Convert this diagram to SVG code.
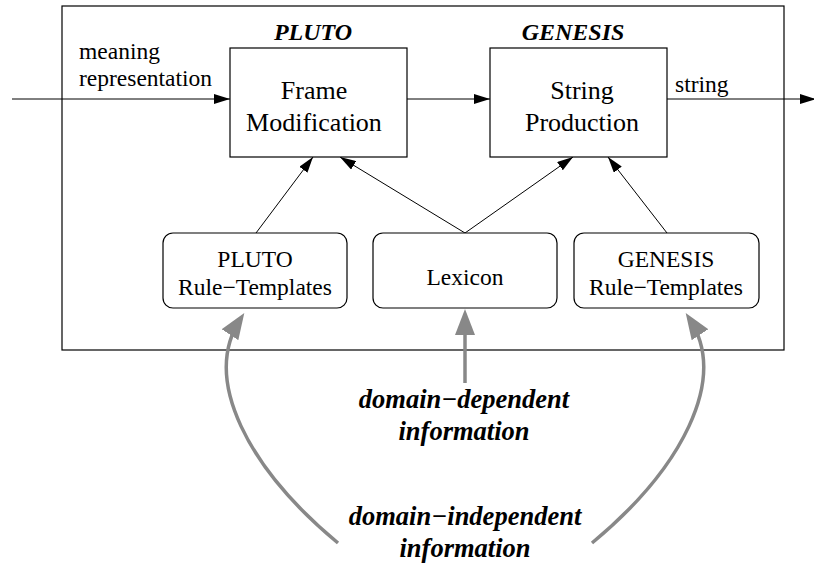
<svg xmlns="http://www.w3.org/2000/svg" width="814" height="563" viewBox="0 0 814 563">
<style>
  .box { fill: #fff; stroke: #000; stroke-width: 1.2; }
  .outer { fill: none; stroke: #000; stroke-width: 1.2; }
  .t { font-family: "Liberation Serif", "Times New Roman", serif; fill: #000; text-anchor: middle; }
  .big { font-size: 26px; }
  .med { font-size: 23.5px; }
  .lab { font-size: 24px; font-weight: bold; font-style: italic; }
  .dom { font-size: 26.5px; font-weight: bold; font-style: italic; }
  .edge { fill: none; stroke: #000; stroke-width: 1; }
  .gray { fill: none; stroke: #888; stroke-width: 3.5; }
</style>
<defs>
  <marker id="ah" markerUnits="userSpaceOnUse" markerWidth="16" markerHeight="10" refX="16" refY="5" orient="auto">
    <path d="M0,0 L16,5 L0,10 z" fill="#000"/>
  </marker>
  <marker id="gh" markerUnits="userSpaceOnUse" markerWidth="26" markerHeight="20" refX="20" refY="10" orient="auto">
    <path d="M0,0 L26,10 L0,20 z" fill="#888"/>
  </marker>
</defs>

<rect class="outer" x="62" y="6" width="722" height="344"/>

<g id="connectors">
  <line class="edge" x1="12" y1="99" x2="230" y2="99" marker-end="url(#ah)"/>
  <line class="edge" x1="407" y1="99" x2="490" y2="99" marker-end="url(#ah)"/>
  <line class="edge" x1="667" y1="99" x2="816" y2="99" marker-end="url(#ah)"/>
  <line class="edge" x1="256" y1="233" x2="313" y2="157" marker-end="url(#ah)"/>
  <line class="edge" x1="465" y1="233" x2="340" y2="157" marker-end="url(#ah)"/>
  <line class="edge" x1="465" y1="233" x2="573" y2="157" marker-end="url(#ah)"/>
  <line class="edge" x1="667" y1="233" x2="608" y2="157" marker-end="url(#ah)"/>
  <line class="gray" x1="465" y1="383" x2="465" y2="315" marker-end="url(#gh)"/>
  <path class="gray" d="M338,543 C250,470 200,380 241,318" marker-end="url(#gh)"/>
  <path class="gray" d="M592,543 C680,470 730,380 689,318" marker-end="url(#gh)"/>
</g>

<g id="label-meaning">
  <text class="t med" x="79" y="59" style="text-anchor:start">meaning</text>
  <text class="t med" x="79" y="86" style="text-anchor:start">representation</text>
</g>
<g id="label-string">
  <text class="t med" x="675" y="92" style="text-anchor:start">string</text>
</g>

<g id="frame-modification">
  <text class="t lab" x="313" y="40">PLUTO</text>
  <rect class="box" x="230" y="48" width="177" height="109"/>
  <text class="t big" x="314" y="99">Frame</text>
  <text class="t big" x="314" y="131">Modification</text>
</g>

<g id="string-production">
  <text class="t lab" x="573" y="40">GENESIS</text>
  <rect class="box" x="490" y="48" width="177" height="109"/>
  <text class="t big" x="582" y="99">String</text>
  <text class="t big" x="582" y="131">Production</text>
</g>

<g id="pluto-rule-templates">
  <rect class="box" x="163" y="233" width="184" height="75" rx="10"/>
  <text class="t med" x="255" y="267">PLUTO</text>
  <text class="t med" x="255" y="295">Rule−Templates</text>
</g>

<g id="lexicon">
  <rect class="box" x="373" y="233" width="184" height="75" rx="10"/>
  <text class="t med" x="465" y="285">Lexicon</text>
</g>

<g id="genesis-rule-templates">
  <rect class="box" x="574" y="233" width="185" height="75" rx="10"/>
  <text class="t med" x="666" y="267">GENESIS</text>
  <text class="t med" x="666" y="295">Rule−Templates</text>
</g>

<g id="domain-dependent">
  <text class="t dom" x="464" y="408">domain−dependent</text>
  <text class="t dom" x="464" y="440">information</text>
</g>

<g id="domain-independent">
  <text class="t dom" x="465" y="525">domain−independent</text>
  <text class="t dom" x="465" y="557">information</text>
</g>
</svg>
